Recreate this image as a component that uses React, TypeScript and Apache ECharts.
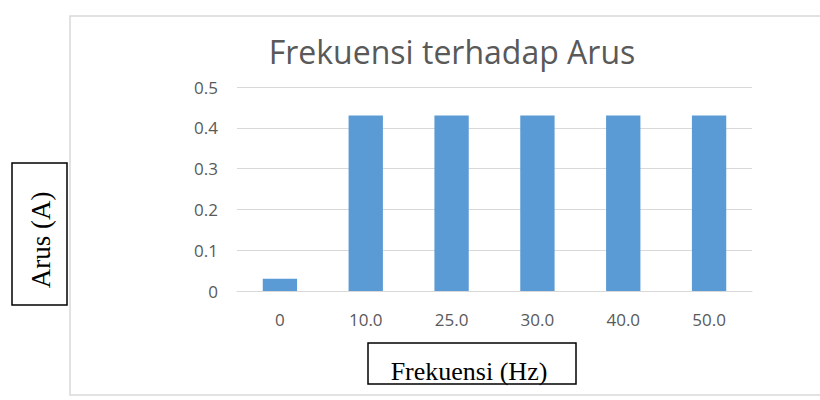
import React, { useEffect, useRef } from "react";
import * as echarts from "echarts";

const categories = ["0", "10.0", "25.0", "30.0", "40.0", "50.0"];
const arusValues = [0.03, 0.43, 0.43, 0.43, 0.43, 0.43];
const yTicks = [0, 0.1, 0.2, 0.3, 0.4, 0.5];
const titleText = "Frekuensi terhadap Arus";
const xAxisTitle = "Frekuensi (Hz)";
const yAxisTitle = "Arus (A)";

export default function App() {
  const ref = useRef<HTMLDivElement>(null);
  useEffect(() => {
    if (!ref.current) return;
    const chart = echarts.init(ref.current, null, { renderer: "svg" });
    chart.setOption({
      animation: false,
      backgroundColor: "#ffffff",
      title: {
        text: titleText,
        left: 447,
        textAlign: "center",
        top: 30,
        textStyle: {
          fontFamily: "Open Sans",
          fontWeight: "normal",
          fontSize: 32,
          color: "#595959",
        },
      },
      grid: { left: 237, right: 68, top: 87, bottom: 109 },
      xAxis: {
        type: "category",
        data: categories,
        axisLine: { lineStyle: { color: "#d9d9d9" } },
        axisTick: { show: false },
        axisLabel: {
          color: "#595959",
          fontFamily: "Open Sans",
          fontSize: 17,
          margin: 20,
        },
      },
      yAxis: {
        type: "value",
        min: yTicks[0],
        max: yTicks[yTicks.length - 1],
        interval: 0.1,
        axisLine: { show: false },
        axisTick: { show: false },
        splitLine: { lineStyle: { color: "#d9d9d9" } },
        axisLabel: {
          color: "#595959",
          fontFamily: "Open Sans",
          fontSize: 17,
          margin: 19,
          formatter: (v: number) => (v === 0 ? "0" : String(Math.round(v * 10) / 10)),
        },
      },
      series: [
        {
          type: "bar",
          data: arusValues,
          barWidth: "40%",
          itemStyle: { color: "#5b9bd5" },
        },
      ],
      graphic: [
        {
          type: "rect",
          shape: { x: 70, y: 16, width: 780, height: 379 },
          style: { fill: "none", stroke: "#d9d9d9", lineWidth: 1.5 },
          silent: true,
          z: -1,
        },
        {
          type: "rect",
          shape: { x: 12, y: 163, width: 55, height: 142 },
          style: { fill: "#ffffff", stroke: "#000000", lineWidth: 1.5 },
        },
        {
          type: "text",
          x: 41,
          y: 240,
          rotation: Math.PI / 2,
          style: {
            text: yAxisTitle,
            fontFamily: "Liberation Serif",
            fontSize: 27,
            fill: "#000000",
            align: "center",
            verticalAlign: "middle",
          },
        },
        {
          type: "rect",
          shape: { x: 368, y: 343, width: 208, height: 41 },
          style: { fill: "#ffffff", stroke: "#000000", lineWidth: 1.5 },
        },
        {
          type: "text",
          x: 469,
          y: 371,
          style: {
            text: xAxisTitle,
            fontFamily: "Liberation Serif",
            fontSize: 26,
            fill: "#000000",
            align: "center",
            verticalAlign: "middle",
          },
        },
      ],
    });
    return () => chart.dispose();
  }, []);
  return (
    <div
      ref={ref}
      style={{ position: "fixed", left: 0, top: 0, width: 820, height: 400 }}
    />
  );
}
